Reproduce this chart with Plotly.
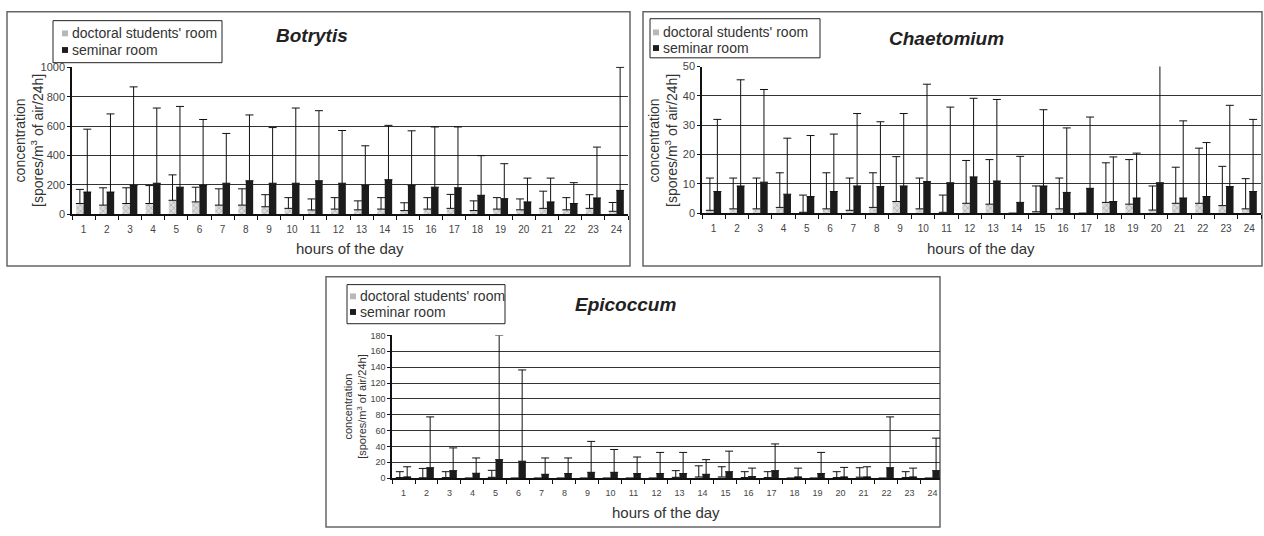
import plotly.graph_objects as go

W, H = 1264, 536

hours = [str(i) for i in range(1, 25)]

# Botrytis
bot_doc = [73, 62, 73, 73, 95, 84, 62, 62, 51, 40, 29, 35, 30, 35, 25, 35, 40, 25, 35, 30, 40, 30, 40, 20]
bot_doc_top = [169, 180, 180, 195, 268, 184, 173, 173, 133, 113, 104, 113, 91, 113, 78, 113, 135, 91, 113, 104, 157, 113, 133, 80]
bot_sem = [151, 151, 195, 211, 184, 195, 211, 228, 211, 211, 228, 211, 195, 235, 195, 184, 180, 129, 106, 84, 84, 73, 111, 162]
bot_sem_top = [579, 683, 867, 723, 734, 645, 550, 676, 590, 723, 705, 570, 466, 605, 568, 594, 594, 399, 344, 246, 246, 215, 457, 1000]

# Chaetomium
cha_doc = [1, 1.5, 1.5, 2, 0.3, 1.5, 1, 2, 4, 1.5, 0.3, 3.4, 3.1, 0, 0.5, 1.5, 0, 3.7, 3.1, 1.1, 3.4, 3.4, 2.6, 1.5]
cha_doc_top = [12, 12, 12, 13.8, 6.2, 13.8, 12, 13.8, 19.3, 12, 6.2, 18, 18.3, None, 9.3, 12, None, 17.2, 18.3, 9.3, 15.7, 22.2, 16, 11.8]
cha_sem = [7.4, 9.3, 10.6, 6.5, 5.7, 7.4, 9.3, 9.1, 9.3, 10.8, 10.4, 12.4, 11, 3.7, 9.3, 7.1, 8.5, 4, 5.2, 10.4, 5.2, 5.7, 9.1, 7.4]
cha_sem_top = [32, 45.5, 42.2, 25.6, 26.5, 27, 34, 31.2, 34, 44, 36.2, 39.2, 38.8, 19.4, 35.3, 29.1, 32.8, 19.2, 20.5, 60, 31.5, 24.1, 36.8, 32]

# Epicoccum
epi_doc = [0.8, 0.5, 0.8, 0, 1, 0, 0, 0, 0, 0, 0, 0, 1, 1.5, 1.5, 0.8, 0.8, 0, 0, 0.8, 1.2, 0, 0.8, 0]
epi_doc_top = [8.2, 12.3, 8.2, None, 9.9, None, None, None, None, None, None, None, 9.5, 15.6, 14.4, 8.2, 8.2, None, None, 8.2, 13.2, None, 8.2, None]
epi_sem = [1.2, 13.2, 9.5, 6.2, 23.4, 21.4, 4.9, 5.8, 7.4, 7.4, 5.8, 5.8, 5.8, 4.9, 8.2, 2, 9.5, 1.2, 5.8, 1.2, 1.2, 13.2, 1.2, 9.5]
epi_sem_top = [14.4, 77.3, 38.2, 25.5, 180, 136.5, 25.5, 25.5, 46.4, 36.2, 26.7, 32.5, 32.5, 23.4, 34.1, 12.7, 43.2, 12.7, 32.5, 13.6, 14.4, 77.3, 12.7, 50.5]

legend_names = ["doctoral students' room", "seminar room"]
titles = ["Botrytis", "Chaetomium", "Epicoccum"]
x_title = "hours of the day"
y_title = "concentration<br>[spores/m<sup>3</sup> of air/24h]"


def px(x):
    return x / W


def py(y):
    return 1 - y / H


def err(vals, tops):
    return [None if t is None else max(t - v, 0) for v, t in zip(vals, tops)]


FONT = "Liberation Sans, Arial, sans-serif"

panels = [
    dict(doc=bot_doc, doc_top=bot_doc_top, sem=bot_sem, sem_top=bot_sem_top,
         plot=(72, 628, 62, 213), yrange=[0, 1005], dtick=200, xr=[-0.5, 23.5],
         frame=(7, 630, 6, 266), legend=(53, 222, 15, 58, 28, 45, 62, 70),
         title=(312, 30), xt=(350, 248), yt=(29, 138, 14), tick=11, xtick=10),
    dict(doc=cha_doc, doc_top=cha_doc_top, sem=cha_sem, sem_top=cha_sem_top,
         plot=(702, 1261, 62, 212), yrange=[0, 50], dtick=10, xr=[-0.5, 23.5],
         frame=(643, 1262, 6, 266), legend=(650, 820, 13, 53, 27, 43, 653, 661),
         title=(946, 33), xt=(981, 248), yt=(663, 138, 14), tick=11, xtick=10),
    dict(doc=epi_doc, doc_top=epi_doc_top, sem=epi_sem, sem_top=epi_sem_top,
         plot=(392, 940, 337, 483), yrange=[0, 180], dtick=20, xr=[-0.5, 23.33],
         frame=(326, 940, 277, 533), legend=(347, 505, 285, 325, 297, 313, 350, 358),
         title=(625, 305), xt=(666, 518), yt=(355, 410, 11), tick=9, xtick=9),
]

fig = go.Figure()
shapes = []
annotations = []

for i, p in enumerate(panels):
    n = "" if i == 0 else str(i + 1)
    xa, ya = "x" + n, "y" + n
    fig.add_trace(go.Bar(
        x=hours, y=p["doc"], xaxis=xa, yaxis=ya, name=legend_names[0], showlegend=False,
        marker=dict(color="#d4d4d4", line=dict(width=0),
                    pattern=dict(shape="x", fgcolor="#8a8a8a", bgcolor="#dcdcdc", size=4, solidity=0.35)),
        error_y=dict(type="data", symmetric=False, array=err(p["doc"], p["doc_top"]),
                     arrayminus=[0] * 24, color="#111", thickness=1, width=4),
    ))
    fig.add_trace(go.Bar(
        x=hours, y=p["sem"], xaxis=xa, yaxis=ya, name=legend_names[1], showlegend=False,
        marker=dict(color="#1c1c1c", line=dict(width=0)),
        error_y=dict(type="data", symmetric=False, array=err(p["sem"], p["sem_top"]),
                     arrayminus=[0] * 24, color="#111", thickness=1, width=4),
    ))
    x0, x1, y0, y1 = p["plot"]
    fig.update_layout(**{
        "xaxis" + n: dict(domain=[px(x0), px(x1)], anchor=ya, type="category", range=p["xr"],
                          showline=True, linecolor="#111", linewidth=1.5, ticks="outside",
                          tickson="boundaries", ticklen=4, tickcolor="#111", showgrid=False,
                          tickfont=dict(family=FONT, size=p["xtick"], color="#444"),
                          ticklabelstandoff=5),
        "yaxis" + n: dict(domain=[py(y1), py(y0)], anchor=xa, range=p["yrange"], dtick=p["dtick"],
                          showline=True, linecolor="#111", linewidth=1.5, ticks="outside",
                          ticklen=3, tickcolor="#111", showgrid=True, gridcolor="#333",
                          gridwidth=1.2, zeroline=False,
                          tickfont=dict(family=FONT, size=p["tick"], color="#444")),
    })
    # frame
    fx0, fx1, fy0, fy1 = p["frame"]
    shapes.append(dict(type="rect", xref="paper", yref="paper", x0=px(fx0), x1=px(fx1),
                       y0=py(fy1), y1=py(fy0), line=dict(color="#666", width=1.5), layer="below"))
    # legend box
    lx0, lx1, ly0, ly1, r1, r2, sx, tx = p["legend"]
    shapes.append(dict(type="rect", xref="paper", yref="paper", x0=px(lx0), x1=px(lx1),
                       y0=py(ly1), y1=py(ly0), line=dict(color="#222", width=1), fillcolor="white"))
    for r, col, name in [(r1, "#b8b8b8", legend_names[0]), (r2, "#1c1c1c", legend_names[1])]:
        shapes.append(dict(type="rect", xref="paper", yref="paper", x0=px(sx), x1=px(sx + 6),
                           y0=py(r + 3), y1=py(r - 3), line=dict(width=0), fillcolor=col))
        annotations.append(dict(text=name, xref="paper", yref="paper", x=px(tx), y=py(r),
                                xanchor="left", yanchor="middle", showarrow=False,
                                font=dict(family=FONT, size=14, color="#333")))
    # title
    tx_, ty_ = p["title"]
    annotations.append(dict(text="<b><i>%s</i></b>" % titles[i], xref="paper", yref="paper",
                            x=px(tx_), y=py(ty_), xanchor="center", yanchor="middle",
                            showarrow=False, font=dict(family=FONT, size=19, color="#222")))
    # x title
    xx, xy = p["xt"]
    annotations.append(dict(text=x_title, xref="paper", yref="paper", x=px(xx), y=py(xy),
                            xanchor="center", yanchor="middle", showarrow=False,
                            font=dict(family=FONT, size=15, color="#333")))
    # y title
    yx, yy, fs = p["yt"]
    annotations.append(dict(text=y_title, xref="paper", yref="paper", x=px(yx), y=py(yy),
                            xanchor="center", yanchor="middle", showarrow=False, textangle=-90,
                            font=dict(family=FONT, size=fs, color="#333")))

fig.update_layout(
    width=W, height=H, margin=dict(l=0, r=0, t=0, b=0),
    paper_bgcolor="white", plot_bgcolor="white",
    barmode="group", bargap=0.36, bargroupgap=0.0,
    showlegend=False, shapes=shapes, annotations=annotations,
)

fig.write_html(
    "out.html",
    config={"displayModeBar": False, "responsive": False},
    post_script="document.body.style.margin='0';document.body.style.padding='0';document.body.style.overflow='hidden';",
)
